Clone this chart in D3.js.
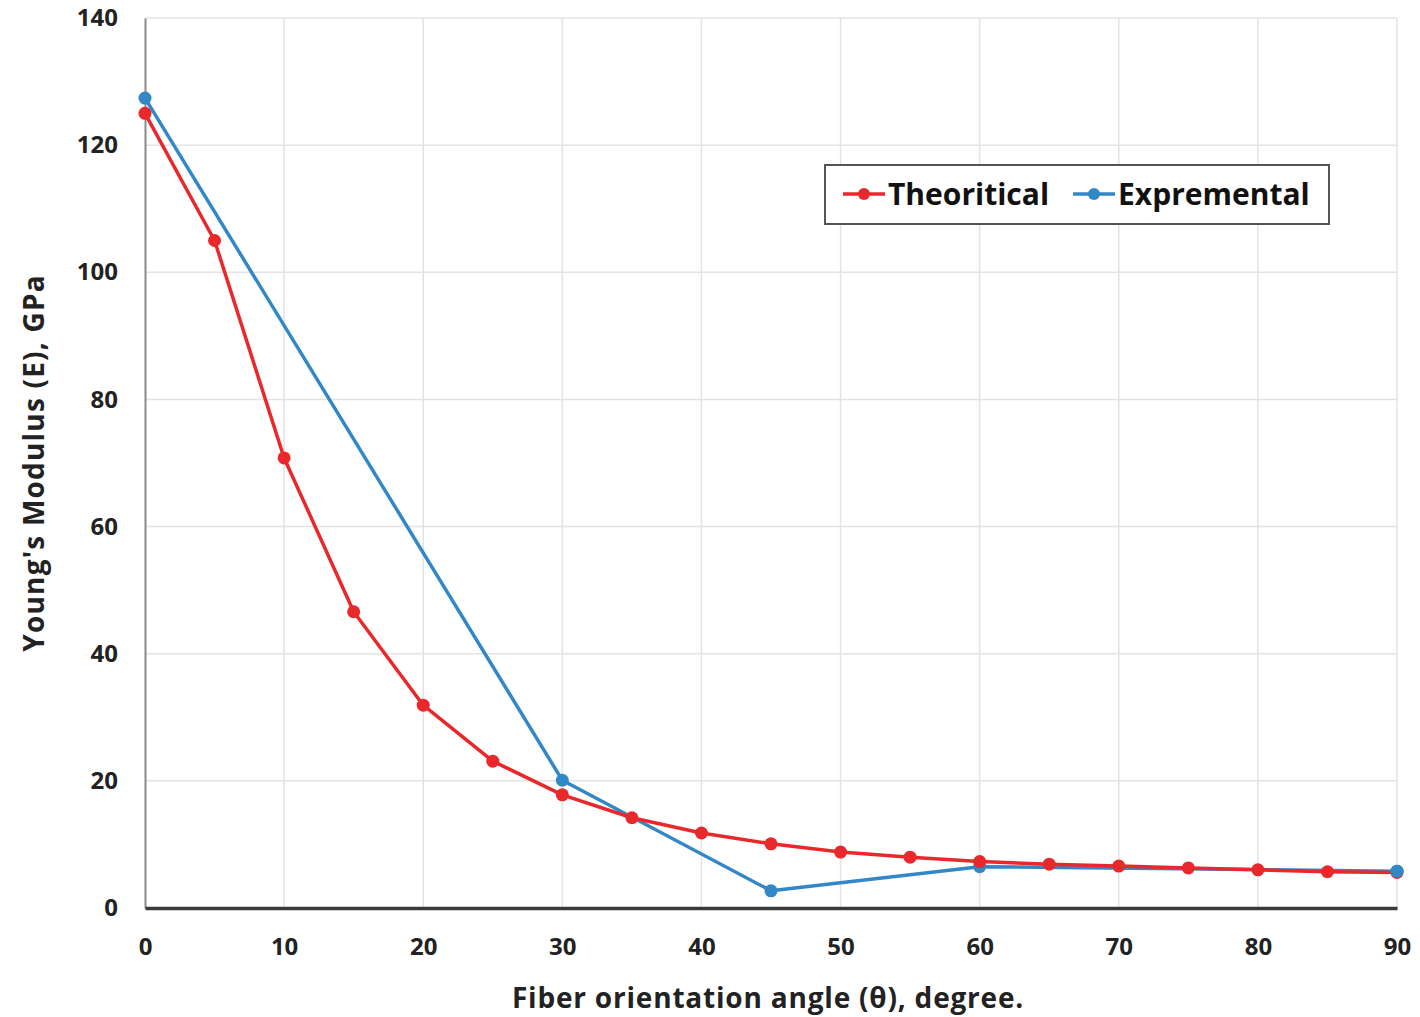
<!DOCTYPE html>
<html><head><meta charset="utf-8">
<script src="https://cdn.jsdelivr.net/npm/d3@7"></script>
<style>body{margin:0;background:#fff}svg{display:block}text{font-family:"Open Sans",sans-serif;font-weight:700}</style>
</head><body>
<script>
const theoAngles = [0,5,10,15,20,25,30,35,40,45,50,55,60,65,70,75,80,85,90];
const theoValues = [125,105,70.8,46.6,31.9,23.1,17.8,14.2,11.8,10.1,8.8,8.0,7.3,6.9,6.6,6.3,6.0,5.7,5.6];
const expAngles = [0,30,45,60,90];
const expValues = [127.4,20.1,2.7,6.5,5.8];
const xTicks = [0,10,20,30,40,50,60,70,80,90];
const yTicks = [0,20,40,60,80,100,120,140];
const seriesNames = ["Theoritical","Expremental"];
const seriesColors = ["#e8282b","#3288c6"];

const W=1420,H=1017;
const svg=d3.select("body").append("svg").attr("width",W).attr("height",H);
const x=d3.scaleLinear().domain([0,90]).range([145,1397]);
const y=d3.scaleLinear().domain([0,140]).range([908,18]);

// grid
svg.append("g").selectAll("line").data(xTicks.slice(1)).join("line")
 .attr("x1",d=>x(d)).attr("x2",d=>x(d)).attr("y1",y(140)).attr("y2",y(0))
 .attr("stroke","#e3e3e3").attr("stroke-width",1.5);
svg.append("g").selectAll("line").data(yTicks.slice(1)).join("line")
 .attr("x1",x(0)).attr("x2",x(90)).attr("y1",d=>y(d)).attr("y2",d=>y(d))
 .attr("stroke","#e3e3e3").attr("stroke-width",1.5);

// axes
const yAxis=svg.append("g").attr("transform",`translate(${x(0)},0)`)
 .call(d3.axisLeft(y).tickValues(yTicks).tickSize(0).tickPadding(27));
yAxis.select(".domain").attr("stroke","#8a8a8a").attr("stroke-width",2);
yAxis.selectAll("text").attr("font-size",24).attr("fill","#222");
const xAxis=svg.append("g").attr("transform",`translate(0,${y(0)})`)
 .call(d3.axisBottom(x).tickValues(xTicks).tickSize(0).tickPadding(30));
xAxis.select(".domain").attr("stroke","#3a3a3a").attr("stroke-width",3.5);
xAxis.selectAll("text").attr("font-size",24).attr("fill","#222");

// titles
svg.append("text").attr("x",768).attr("y",1008).attr("text-anchor","middle")
 .attr("font-size",28).attr("letter-spacing",0.8).attr("fill","#222").text("Fiber orientation  angle (θ), degree.");
svg.append("text").attr("transform","translate(44,463) rotate(-90)").attr("text-anchor","middle")
 .attr("font-size",28).attr("letter-spacing",1.2).attr("fill","#222").text("Young's Modulus  (E), GPa");

const line=d3.line().x(d=>x(d[0])).y(d=>y(d[1]));
const theo=theoAngles.map((a,i)=>[a,theoValues[i]]);
const expd=expAngles.map((a,i)=>[a,expValues[i]]);

function drawSeries(data,color){
  svg.append("path").datum(data).attr("d",line).attr("fill","none")
   .attr("stroke",color).attr("stroke-width",3.5).attr("stroke-linejoin","round");
  svg.append("g").selectAll("circle").data(data).join("circle")
   .attr("cx",d=>x(d[0])).attr("cy",d=>y(d[1])).attr("r",6.5).attr("fill",color);
}
drawSeries(expd,seriesColors[1]);
drawSeries(theo,seriesColors[0]);
// blue last point on top
svg.append("circle").attr("cx",x(90)).attr("cy",y(expValues[4])).attr("r",6.5).attr("fill",seriesColors[1]);

// legend
const lg=svg.append("g");
lg.append("rect").attr("x",825).attr("y",165).attr("width",504).attr("height",59)
 .attr("fill","#fff").attr("stroke","#555").attr("stroke-width",2);
const items=[{x:843,name:seriesNames[0],c:seriesColors[0]},{x:1073,name:seriesNames[1],c:seriesColors[1]}];
items.forEach(it=>{
  lg.append("line").attr("x1",it.x).attr("x2",it.x+42).attr("y1",194).attr("y2",194).attr("stroke",it.c).attr("stroke-width",3.5);
  lg.append("circle").attr("cx",it.x+21).attr("cy",194).attr("r",6).attr("fill",it.c);
  lg.append("text").attr("x",it.x+45).attr("y",205).attr("font-size",30).attr("fill","#111").text(it.name);
});
</script>
</body></html>
